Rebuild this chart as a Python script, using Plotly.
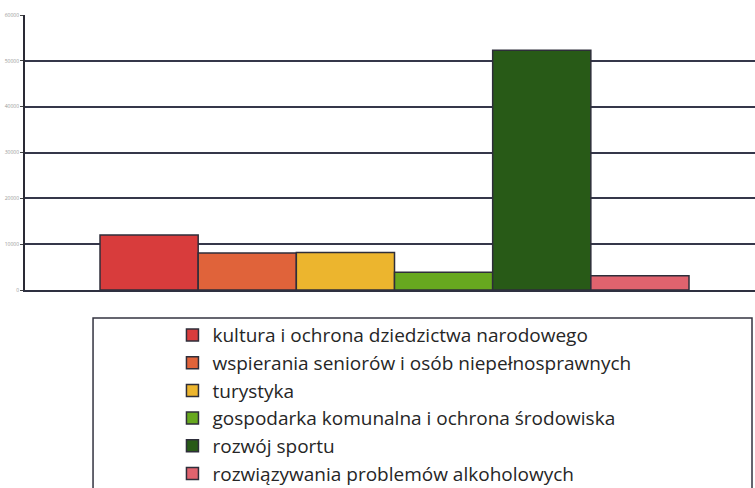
import plotly.graph_objects as go

# chart data
categories = [
    "kultura i ochrona dziedzictwa narodowego",
    "wspierania seniorów i osób niepełnosprawnych",
    "turystyka",
    "gospodarka komunalna i ochrona środowiska",
    "rozwój sportu",
    "rozwiązywania problemów alkoholowych",
]
values = [12000, 8100, 8200, 3900, 52300, 3100]
colors = ["#d83c3c", "#e0633a", "#ecb52e", "#67a81f", "#285a17", "#e0636e"]
tick_vals = [0, 10000, 20000, 30000, 40000, 50000, 60000]
tick_text = ["0", "10000", "20000", "30000", "40000", "50000", "60000"]
grid_vals = [10000, 20000, 30000, 40000, 50000]

fig = go.Figure()

for i, (name, v, c) in enumerate(zip(categories, values, colors)):
    fig.add_trace(go.Bar(
        x=[""],
        y=[v],
        name=name,
        legendgroup=f"g{i}",
        marker=dict(color=c, line=dict(color="#2e2e3a", width=1.5)),
    ))

# invisible helper trace on a second y axis that carries the gridlines
fig.add_trace(go.Scatter(x=[""], y=[0], yaxis="y2", mode="markers",
                         marker=dict(opacity=0), showlegend=False, hoverinfo="skip"))

fig.update_layout(
    width=755,
    height=488,
    margin=dict(l=25, r=0, t=15, b=198, autoexpand=False),
    paper_bgcolor="white",
    plot_bgcolor="white",
    barmode="group",
    bargap=0.203,
    bargroupgap=0,
    font=dict(family="Open Sans, Noto Sans, sans-serif", color="#333333"),
    xaxis=dict(
        type="category",
        range=[-0.5, 0.4878],
        showticklabels=False,
        ticks="",
        showgrid=False,
        showline=True,
        linecolor="#2e3040",
        linewidth=2,
        zeroline=False,
    ),
    yaxis=dict(
        range=[0, 60000],
        tickvals=tick_vals,
        ticktext=tick_text,
        tickfont=dict(size=5, color="#999999"),
        ticks="outside",
        ticklen=3,
        tickcolor="#444444",
        showgrid=False,
        showline=True,
        linecolor="#2a2a35",
        linewidth=2,
        zeroline=False,
    ),
    yaxis2=dict(
        overlaying="y",
        matches="y",
        tickvals=grid_vals,
        showticklabels=False,
        ticks="",
        showgrid=True,
        gridcolor="#35374a",
        gridwidth=1.6,
        zeroline=False,
        layer="below traces",
    ),
    legend=dict(
        x=0.202,
        y=-0.095,
        xanchor="left",
        yanchor="top",
        bgcolor="rgba(0,0,0,0)",
        borderwidth=0,
        font=dict(size=19, color="#262626", family="Open Sans, Noto Sans, sans-serif"),
        tracegroupgap=0,
        itemclick=False,
    ),
    showlegend=True,
)

# frame around the legend
fig.add_shape(type="rect", xref="paper", yref="paper",
              x0=0.0932, x1=0.9959, y0=-0.75, y1=-0.1018,
              line=dict(color="#333340", width=1.5), fillcolor="rgba(0,0,0,0)")

fig.write_html("out.html",
               config={"displayModeBar": False},
               post_script="document.body.style.margin='0';document.body.style.overflow='hidden';")
